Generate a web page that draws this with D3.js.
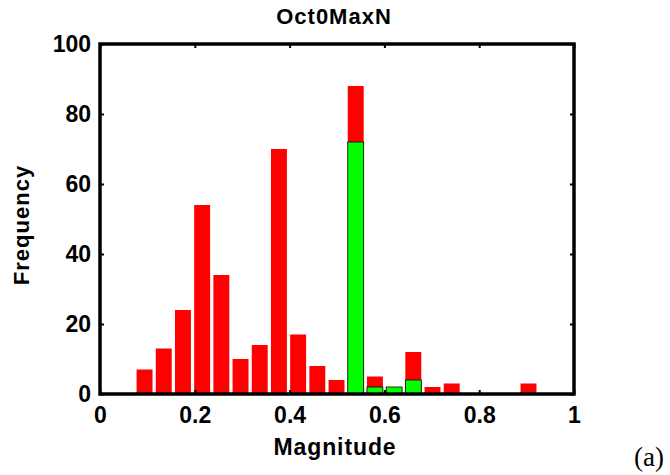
<!DOCTYPE html>
<html>
<head>
<meta charset="utf-8">
<script src="https://cdn.jsdelivr.net/npm/d3@7"></script>
<style>
  html, body { margin: 0; padding: 0; background: #fff; }
  svg { display: block; }
  .lbl { font-family: "Liberation Sans", Arial, sans-serif; font-weight: bold; fill: #000; }
  .tag { font-family: "Liberation Serif", "Times New Roman", serif; font-weight: normal; fill: #000; }
</style>
</head>
<body>
<svg id="chart" width="670" height="475"></svg>
<script>
// Histogram bin centres (magnitude)
const binCenters = [0.094, 0.1345, 0.175, 0.2155, 0.256, 0.2965, 0.337, 0.3775, 0.418, 0.4585,
                    0.499, 0.5395, 0.58, 0.6205, 0.661, 0.7015, 0.742, 0.7825, 0.823, 0.8635, 0.904];
// Total counts per bin (red)
const totalCounts = [7, 13, 24, 54, 34, 10, 14, 70, 17, 8, 4, 88, 5, 2, 12, 2, 3, 0, 0, 0, 3];
// Subset counts per bin (green)
const subsetCounts = [0, 0, 0, 0, 0, 0, 0, 0, 0, 0, 0, 72, 2, 2, 4, 0, 0, 0, 0, 0, 0];
const binWidth = 0.0405;

const xTicks = [0, 0.2, 0.4, 0.6, 0.8, 1];
const xTickLabels = ["0", "0.2", "0.4", "0.6", "0.8", "1"];
const yTicks = [0, 20, 40, 60, 80, 100];

const svg = d3.select("#chart");
const mLeft = 100, mTop = 44, plotW = 474, plotH = 350;

const x = d3.scaleLinear().domain([0, 1]).range([mLeft, mLeft + plotW]);
const y = d3.scaleLinear().domain([0, 100]).range([mTop + plotH, mTop]);

const barW = x(binWidth * 0.83) - x(0);

const bins = binCenters.map((c, i) => ({ c, total: totalCounts[i], sub: subsetCounts[i] }));

// red bars: full counts
svg.append("g").selectAll("rect")
  .data(bins.filter(d => d.total > 0))
  .join("rect")
  .attr("x", d => x(d.c) - barW / 2)
  .attr("y", d => y(d.total))
  .attr("width", barW)
  .attr("height", d => y(0) - y(d.total))
  .attr("fill", "#ff0000");

// green bars: subset, outlined
svg.append("g").selectAll("rect")
  .data(bins.filter(d => d.sub > 0))
  .join("rect")
  .attr("x", d => x(d.c) - barW / 2)
  .attr("y", d => y(d.sub))
  .attr("width", barW)
  .attr("height", d => y(0) - y(d.sub))
  .attr("fill", "#00ff00")
  .attr("stroke", "#000")
  .attr("stroke-width", 0.8);

// axes with inward ticks
const tickLen = 4;
const xAxis = d3.axisBottom(x).tickValues(xTicks).tickFormat((d, i) => xTickLabels[i])
  .tickSizeInner(-tickLen).tickSizeOuter(0).tickPadding(13);
const gx = svg.append("g").attr("transform", `translate(0,${mTop + plotH})`).call(xAxis);
gx.select(".domain").remove();
gx.selectAll("text").attr("class", "lbl").attr("font-size", 23);
gx.selectAll("line").attr("stroke", "#000").attr("stroke-width", 2);

const xAxisTop = d3.axisTop(x).tickValues(xTicks).tickFormat("").tickSizeInner(-tickLen).tickSizeOuter(0);
const gxt = svg.append("g").attr("transform", `translate(0,${mTop})`).call(xAxisTop);
gxt.select(".domain").remove();
gxt.selectAll("line").attr("stroke", "#000").attr("stroke-width", 2);

const yAxis = d3.axisLeft(y).tickValues(yTicks).tickFormat(d3.format("d"))
  .tickSizeInner(-tickLen).tickSizeOuter(0).tickPadding(9);
const gy = svg.append("g").attr("transform", `translate(${mLeft},0)`).call(yAxis);
gy.select(".domain").remove();
gy.selectAll("text").attr("class", "lbl").attr("font-size", 23);
gy.selectAll("line").attr("stroke", "#000").attr("stroke-width", 2);

const yAxisRight = d3.axisRight(y).tickValues(yTicks).tickFormat("").tickSizeInner(-tickLen).tickSizeOuter(0);
const gyr = svg.append("g").attr("transform", `translate(${mLeft + plotW},0)`).call(yAxisRight);
gyr.select(".domain").remove();
gyr.selectAll("line").attr("stroke", "#000").attr("stroke-width", 2);

// box frame
svg.append("rect")
  .attr("x", mLeft).attr("y", mTop).attr("width", plotW).attr("height", plotH)
  .attr("fill", "none").attr("stroke", "#000").attr("stroke-width", 3.5);

// title and axis labels
svg.append("text").attr("class", "lbl").attr("x", 334).attr("y", 24)
  .attr("text-anchor", "middle").attr("font-size", 22).attr("letter-spacing", 1).text("Oct0MaxN");
svg.append("text").attr("class", "lbl").attr("x", 335).attr("y", 455)
  .attr("text-anchor", "middle").attr("font-size", 23).attr("letter-spacing", 0.9).text("Magnitude");
svg.append("text").attr("class", "lbl").attr("transform", "translate(29,225) rotate(-90)")
  .attr("text-anchor", "middle").attr("font-size", 22).attr("letter-spacing", 1).text("Frequency");
svg.append("text").attr("class", "tag").attr("x", 664).attr("y", 466).attr("text-anchor", "end")
  .attr("font-size", 27).text("(a)");
</script>
</body>
</html>
